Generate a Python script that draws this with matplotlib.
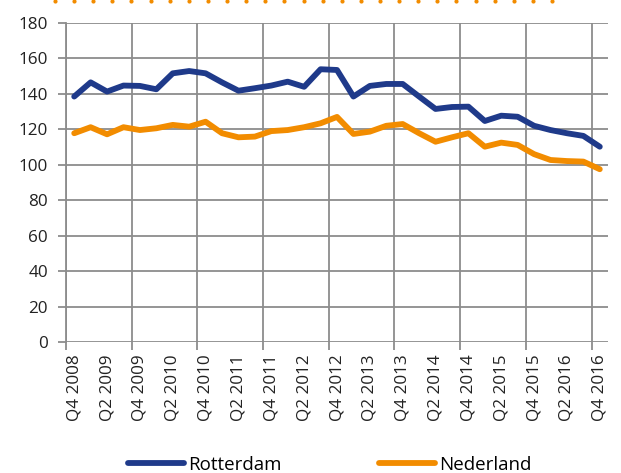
import matplotlib
matplotlib.use("Agg")
import matplotlib.pyplot as plt
import numpy as np
from matplotlib.lines import Line2D

plt.rcParams['font.family'] = ['Open Sans', 'DejaVu Sans']

quarters = [f"Q{q} {y}" for y, q in
            [(2008, 4)] + [(y, q) for y in range(2009, 2017) for q in (1, 2, 3, 4)]]
rotterdam = [138.5, 146.5, 141.3, 144.7, 144.5, 142.6, 151.6, 152.9, 151.6, 146.5,
             141.8, 143.2, 144.7, 146.9, 144.0, 153.9, 153.5, 138.5, 144.5, 145.6,
             145.6, 138.5, 131.5, 132.6, 132.8, 124.7, 127.7, 127.1, 122.0, 119.6,
             117.8, 116.3, 110.2]
nederland = [117.8, 121.2, 117.2, 121.2, 119.6, 120.6, 122.5, 121.5, 124.3, 117.8,
             115.5, 115.9, 119.0, 119.6, 121.2, 123.4, 127.0, 117.4, 118.7, 122.0,
             123.0, 117.8, 113.0, 115.5, 117.8, 110.2, 112.5, 111.2, 106.0, 102.7,
             102.1, 101.8, 97.5]
series_names = ["Rotterdam", "Nederland"]
colors = ["#1F3A8A", "#F28C00"]
y_ticks = list(range(0, 181, 20))

W, H = 621, 473
fig = plt.figure(figsize=(W / 100, H / 100), dpi=100)
ax = fig.add_axes([66 / W, 1 - 342 / H, (608 - 66) / W, (342 - 23) / H])

x = np.arange(len(quarters))
grid_c = "#8C8C8C"
ax.plot(x, rotterdam, color=colors[0], lw=4.2, solid_capstyle='round',
        solid_joinstyle='round', label=series_names[0], zorder=3)
ax.plot(x, nederland, color=colors[1], lw=4.2, solid_capstyle='round',
        solid_joinstyle='round', label=series_names[1], zorder=3)

ax.set_xlim(-0.5, len(quarters) - 0.5)
ax.set_ylim(0, 180)
ax.set_yticks(y_ticks)
ax.set_xticks(x[::2])
ax.set_xticklabels(quarters[::2], rotation=90, fontsize=12.3)
ax.set_xticks(np.arange(-0.5, len(quarters), 4), minor=True)
ax.tick_params(axis='x', which='major', length=0, pad=9)
ax.tick_params(axis='x', which='minor', length=6, width=1.3, color=grid_c)
ax.tick_params(axis='y', length=6, width=1.3, color=grid_c, labelsize=12.3, pad=7)
for lab in ax.get_yticklabels() + ax.get_xticklabels():
    lab.set_color("#222222")

ax.grid(True, axis='y', color=grid_c, lw=1.3)
ax.grid(True, axis='x', which='minor', color=grid_c, lw=1.3)
for s in ['top', 'right', 'bottom']:
    ax.spines[s].set_visible(False)
ax.spines['left'].set_color(grid_c)
ax.spines['left'].set_linewidth(1.3)
ax.set_axisbelow(True)

# decorative dotted orange line at the very top
dots_x = np.linspace(55, 552, 27) / W
fig.add_artist(Line2D(dots_x, np.full_like(dots_x, 1 - 1 / H), transform=fig.transFigure,
                      ls='none', marker='o', ms=3, color=colors[1], mec='none'))

handles = [Line2D([0], [0], color=c, lw=4.2, solid_capstyle='round') for c in colors]
fig.legend(handles, series_names, loc='center left',
           bbox_to_anchor=(128 / W, 1 - 465 / H), ncol=2, frameon=False,
           fontsize=13.5, handlelength=3.0, handletextpad=0.2, columnspacing=5.2,
           borderpad=0, borderaxespad=0)

fig.savefig("out.png", dpi=100, facecolor='white')
